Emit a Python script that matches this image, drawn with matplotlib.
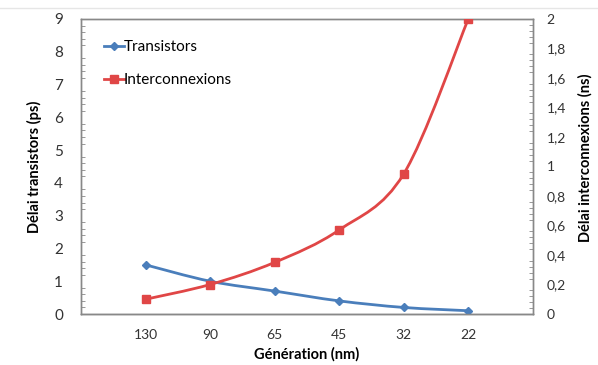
import numpy as np
import matplotlib.pyplot as plt
from matplotlib.path import Path
from matplotlib.patches import PathPatch
from matplotlib.lines import Line2D
from matplotlib.ticker import MultipleLocator, FuncFormatter

plt.rcParams['font.family'] = ['Lato', 'DejaVu Sans']

generations = ["130", "90", "65", "45", "32", "22"]
transistors = [1.5, 1.0, 0.7, 0.4, 0.2, 0.1]          # ps, left axis
interconnexions = [0.1, 0.2, 0.35, 0.57, 0.95, 2.0]   # ns, right axis

blue = "#4A7EBB"
red = "#E04646"


def smooth_path(x, y):
    # Catmull-Rom through the points, as cubic Bezier segments (Excel-like smoothing)
    p = np.column_stack([x, y]).astype(float)
    ext = np.vstack([p[0], p, p[-1]])
    verts = [p[0]]
    codes = [Path.MOVETO]
    for i in range(1, len(ext) - 2):
        c1 = ext[i] + (ext[i + 1] - ext[i - 1]) / 6
        c2 = ext[i + 1] - (ext[i + 2] - ext[i]) / 6
        verts += [c1, c2, ext[i + 1]]
        codes += [Path.CURVE4] * 3
    return Path(verts, codes)


fig = plt.figure(figsize=(5.98, 3.65), dpi=100)
ax = fig.add_axes([0.1355, 0.1397, 0.7555, 0.8083])
ax2 = ax.twinx()

x = np.arange(1, len(generations) + 1)

ax.add_patch(PathPatch(smooth_path(x, transistors), fc="none", ec=blue, lw=2.0, zorder=3))
ax.plot(x, transistors, ls="none", marker="D", ms=4.5, color=blue, zorder=4)
ax2.add_patch(PathPatch(smooth_path(x, interconnexions), fc="none", ec=red, lw=2.0, zorder=3))
ax2.plot(x, interconnexions, ls="none", marker="s", ms=6, color=red, zorder=4)

ax.set_xlim(0, len(generations) + 1)
ax.set_xticks(x)
ax.set_xticklabels(generations)
ax.tick_params(axis="x", length=0, pad=11, labelsize=10, colors="#333333")

ax.set_ylim(0, 9)
ax.yaxis.set_major_locator(MultipleLocator(1))
ax.yaxis.set_minor_locator(MultipleLocator(0.2))
ax.tick_params(axis="y", which="major", length=0, pad=13, labelsize=11, colors="#333333")
ax.tick_params(axis="y", which="minor", direction="in", length=3, color="#888888")

ax2.set_ylim(0, 2)
ax2.yaxis.set_major_locator(MultipleLocator(0.2))
ax2.yaxis.set_minor_locator(MultipleLocator(0.04))
ax2.yaxis.set_major_formatter(FuncFormatter(lambda v, _: ("%g" % round(v, 1)).replace(".", ",")))
ax2.tick_params(axis="y", which="major", length=0, pad=10, labelsize=10, colors="#333333")
ax2.tick_params(axis="y", which="minor", direction="in", length=3, color="#888888")

for a in (ax, ax2):
    for s in a.spines.values():
        s.set_color("#888888")
        s.set_linewidth(1)
ax.spines["bottom"].set_color("#555555")

ax.set_xlabel("Génération (nm)", fontsize=10.5, fontweight="bold", labelpad=4)
ax.set_ylabel("Délai transistors (ps)", fontsize=10.5, fontweight="bold", labelpad=9)
fig.text(0.979, 0.567, "Délai interconnexions (ns)", rotation=90, fontsize=10.5,
         fontweight="bold", ha="center", va="center")

handles = [
    Line2D([], [], color=blue, lw=2.0, marker="D", ms=4.5),
    Line2D([], [], color=red, lw=2.0, marker="s", ms=6),
]
ax.legend(handles, ["Transistors", "Interconnexions"], loc="upper left",
          bbox_to_anchor=(0.02, 0.975), frameon=False, handlelength=1.3,
          handletextpad=0.0, labelspacing=1.25, fontsize=11)

# faint screenshot border line at the top
fig.add_artist(Line2D([0, 1], [0.978, 0.978], color="#e6e6e6", lw=1))

fig.savefig("out.png", dpi=100)
